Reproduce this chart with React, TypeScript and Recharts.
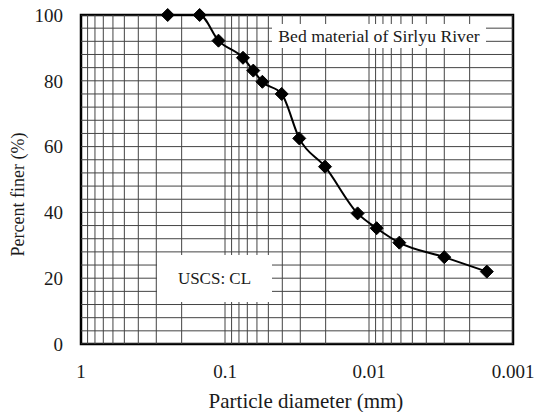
import React from 'react';
import { LineChart, Line, XAxis, YAxis, ReferenceLine, ReferenceArea } from 'recharts';

const diameters = [0.25, 0.15, 0.111, 0.075, 0.0636, 0.055, 0.0404, 0.0305, 0.0202, 0.012, 0.00885, 0.00616, 0.003, 0.00152];
const percentFiner = [100, 100, 92.2, 87.0, 83.1, 79.7, 76.0, 62.5, 53.9, 39.7, 35.2, 30.8, 26.4, 22.0];
const xTicks = [1, 0.1, 0.01, 0.001];
const yTicks = [0, 20, 40, 60, 80, 100];
const decades = [0.001, 0.01, 0.1];
const multipliers = [1, 2, 3, 4, 5, 6, 7, 8, 9];
const yGridStep = 4;

const xGrid = decades.flatMap((d) => multipliers.map((m) => m * d));
const yGrid = Array.from({ length: 100 / yGridStep + 1 }, (_, i) => i * yGridStep);

const data = diameters.map((d, i) => ({ d, p: percentFiner[i] }));

const FONT = '"Liberation Serif", "Times New Roman", "DejaVu Serif", serif';
const GRID = '#444';
const TEXT = '#1a1a1a';

const Diamond = (props: any) => {
  const { cx, cy, index } = props;
  const r = 6.5;
  return (
    <polygon
      key={`dm-${index}`}
      points={`${cx},${cy - r} ${cx + r},${cy} ${cx},${cy + r} ${cx - r},${cy}`}
      fill="#000"
      stroke="#000"
    />
  );
};

export default function App() {
  return (
    <div style={{ position: 'absolute', left: 0, top: 0, width: 535, height: 412, background: '#fff' }}>
      <LineChart width={535} height={412} data={data} margin={{ top: 15, right: 22, bottom: 0, left: 0 }}>
        <XAxis
          dataKey="d"
          type="number"
          scale="log"
          domain={[0.001, 1]}
          reversed
          allowDataOverflow
          ticks={xTicks}
          tickFormatter={(v: number) => String(v)}
          axisLine={false}
          tickLine={false}
          tickSize={0}
          tickMargin={21}
          height={68}
          tick={{ fontFamily: FONT, fontSize: 19, fill: TEXT }}
          interval={0}
          label={{
            content: (props: any) => {
              const vb = props.viewBox;
              return (
                <text x={vb.x + vb.width / 2 + 9} y={408} textAnchor="middle" fontFamily={FONT} fontSize={21} fill={TEXT}>
                  Particle diameter (mm)
                </text>
              );
            },
          }}
        />
        <YAxis
          dataKey="p"
          type="number"
          domain={[0, 100]}
          ticks={yTicks}
          axisLine={false}
          tickLine={false}
          tickSize={0}
          tickMargin={18}
          width={81}
          interval={0}
          tick={{ fontFamily: FONT, fontSize: 19, fill: TEXT }}
          label={{
            content: (props: any) => {
              const vb = props.viewBox;
              const cy = vb.y + vb.height / 2 + 15;
              return (
                <text
                  x={18}
                  y={cy}
                  transform={`rotate(-90 18 ${cy})`}
                  textAnchor="middle"
                  dominantBaseline="central"
                  fontFamily={FONT}
                  fontSize={18}
                  fill={TEXT}
                >
                  Percent finer (%)
                </text>
              );
            },
          }}
        />
        {xGrid.map((v) => (
          <ReferenceLine key={`xg-${v}`} x={v} stroke={GRID} strokeWidth={1} ifOverflow="hidden" />
        ))}
        {yGrid.map((v) => (
          <ReferenceLine key={`yg-${v}`} y={v} stroke={GRID} strokeWidth={1} ifOverflow="hidden" />
        ))}
        <ReferenceArea x1={1} x2={0.001} y1={0} y2={100} fill="none" stroke="#000" strokeWidth={2.5} />
        <Line
          type="monotone"
          dataKey="p"
          stroke="#000"
          strokeWidth={2}
          dot={Diamond}
          activeDot={false}
          isAnimationActive={false}
        />
      </LineChart>
      <div
        style={{
          position: 'absolute',
          left: 272,
          top: 24,
          width: 214,
          height: 24,
          background: '#fff',
          fontFamily: FONT,
          fontSize: 17.7,
          color: TEXT,
          display: 'flex',
          alignItems: 'center',
          justifyContent: 'center',
          whiteSpace: 'nowrap',
        }}
      >
        Bed material of Sirlyu River
      </div>
      <div
        style={{
          position: 'absolute',
          left: 157,
          top: 255,
          width: 115,
          height: 47,
          background: '#fff',
          fontFamily: FONT,
          fontSize: 17,
          color: TEXT,
          display: 'flex',
          alignItems: 'center',
          justifyContent: 'center',
          whiteSpace: 'nowrap',
        }}
      >
        USCS: CL
      </div>
    </div>
  );
}
